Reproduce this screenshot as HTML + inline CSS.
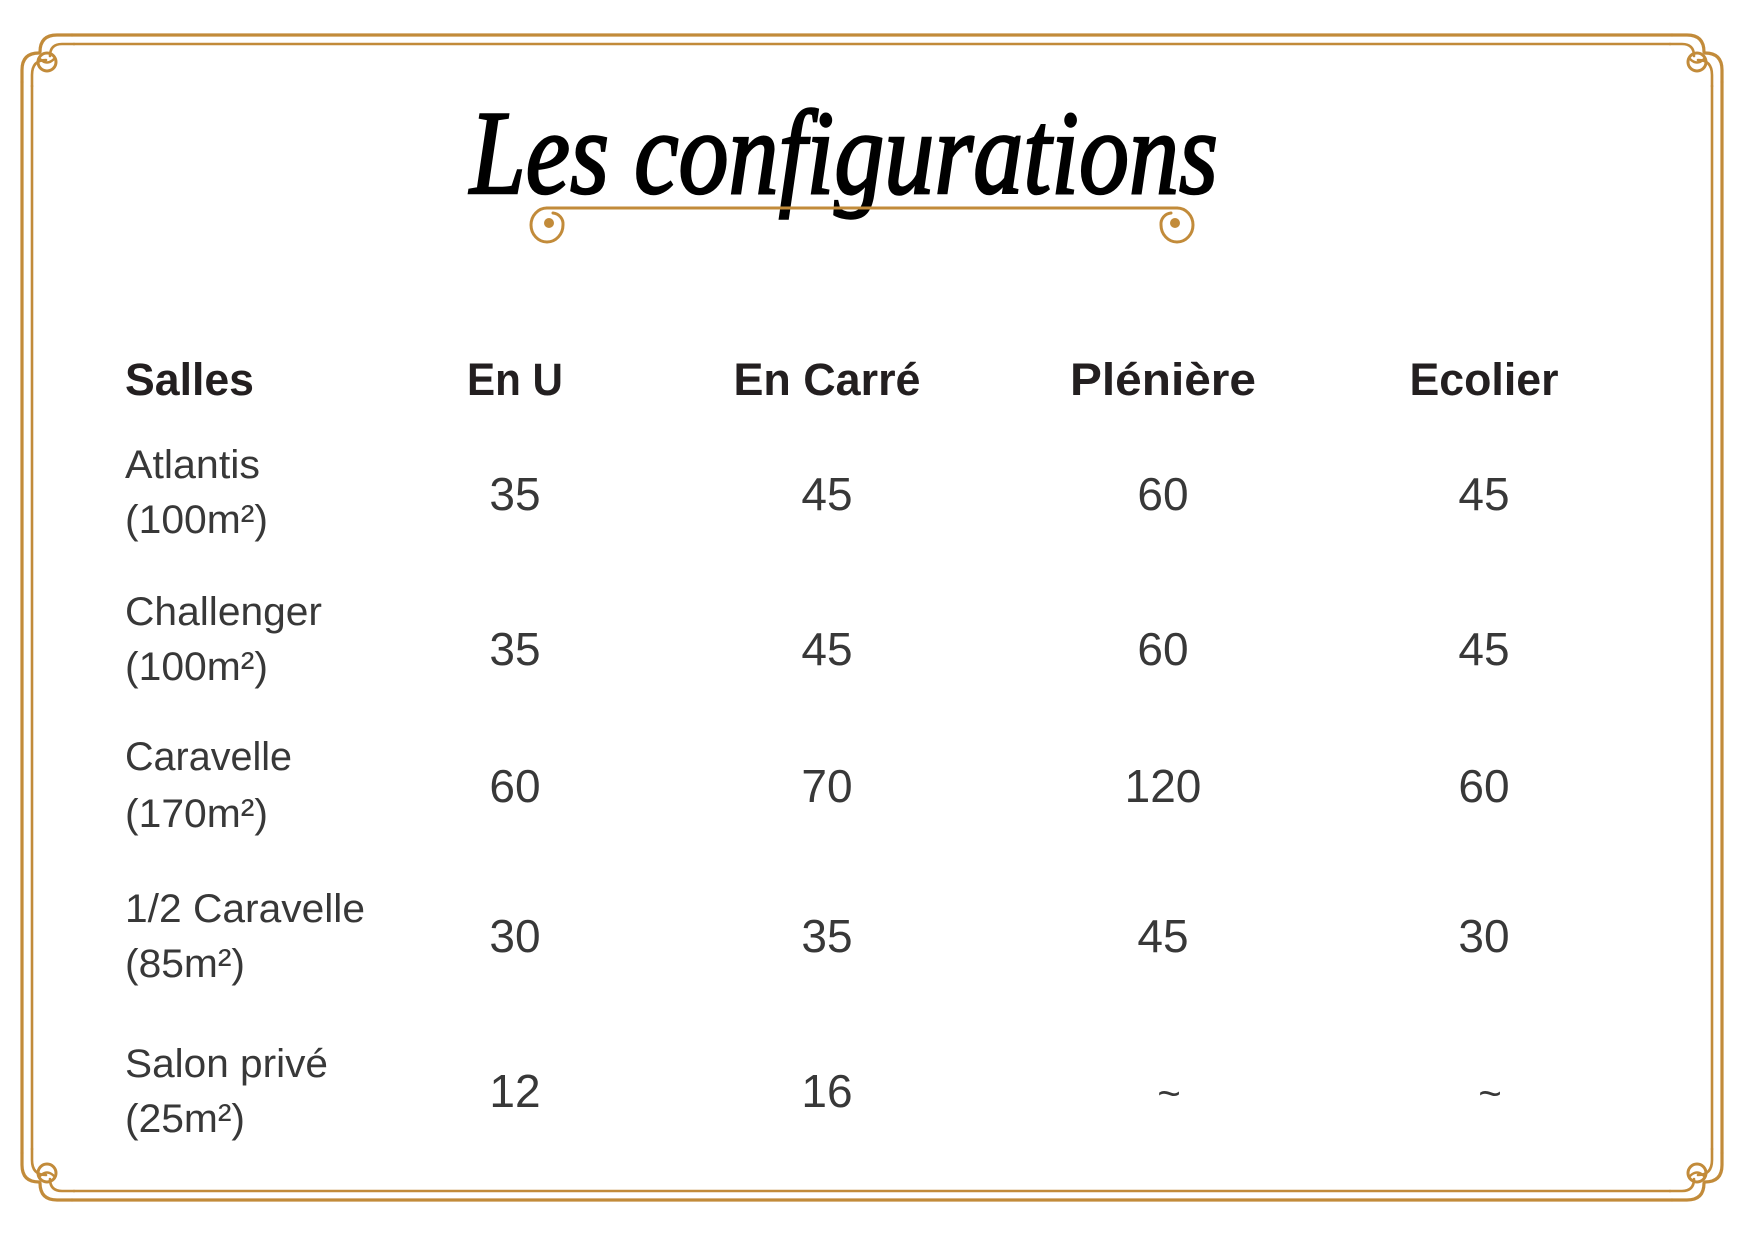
<!DOCTYPE html>
<html>
<head>
<meta charset="utf-8">
<style>
  html, body { margin: 0; padding: 0; background: #ffffff; }
  body { width: 1748px; height: 1240px; overflow: hidden; }
  svg { display: block; }
  .hdr { font-family: "Liberation Sans", sans-serif; font-weight: bold; font-size: 45px; fill: #231f20; }
  .name { font-family: "Liberation Sans", sans-serif; font-weight: normal; font-size: 40px; fill: #383838; }
  .num { font-family: "Liberation Sans", sans-serif; font-weight: normal; font-size: 46px; fill: #383838; }
  .title { font-family: "Liberation Serif", serif; font-style: italic; font-size: 120px; fill: #000; stroke: #000; stroke-width: 2.5px; }
</style>
</head>
<body>
<svg width="1748" height="1240" viewBox="0 0 1748 1240" xmlns="http://www.w3.org/2000/svg">
  <defs>
    <g id="corner" fill="none" stroke="#C28B3A" stroke-linecap="round">
      <path d="M72 35 L57 35 Q40 35 40 52" stroke-width="3.2"/>
      <path d="M22 82 L22 70 Q22 53 39 53" stroke-width="3.2"/>
      <path d="M74 44 L62 44 Q50 44 50 56" stroke-width="2.6"/>
      <path d="M32 86 L32 75 Q32 60 46 60" stroke-width="2.6"/>
      <circle cx="47" cy="62" r="9" stroke-width="3"/>
      <path d="M40 59 Q47 66 54 59" stroke-width="2.4"/>
    </g>
  </defs>
  <rect x="0" y="0" width="1748" height="1240" fill="#ffffff"/>

  <!-- Frame straight lines -->
  <g fill="none" stroke="#C28B3A" stroke-linecap="round">
    <path d="M72 35 L1672 35 M72 1200 L1672 1200 M22 82 L22 1153 M1722 82 L1722 1153" stroke-width="3.2"/>
    <path d="M74 44 L1670 44 M74 1191 L1670 1191 M32 86 L32 1149 M1712 86 L1712 1149" stroke-width="2.6"/>
  </g>
  <!-- Frame corners -->
  <use href="#corner"/>
  <use href="#corner" transform="matrix(-1 0 0 1 1744 0)"/>
  <use href="#corner" transform="matrix(1 0 0 -1 0 1235)"/>
  <use href="#corner" transform="matrix(-1 0 0 -1 1744 1235)"/>

  <!-- Title -->
  <text class="title" x="470" y="193" textLength="748" lengthAdjust="spacingAndGlyphs">Les configurations</text>

  <!-- Title ornament -->
  <g fill="none" stroke="#C28B3A" stroke-width="3" stroke-linecap="round">
    <path d="M547 208 L1177 208"/>
    <path d="M547 208 A16 17 0 1 0 563 225 A11 11 0 0 0 553 213"/>
    <path d="M1177 208 A16 17 0 1 1 1161 225 A11 11 0 0 1 1171 213"/>
  </g>
  <circle cx="549" cy="223" r="5" fill="#C28B3A"/>
  <circle cx="1175" cy="223" r="5" fill="#C28B3A"/>

  <!-- Headers -->
  <text class="hdr" x="125" y="395" textLength="129" lengthAdjust="spacingAndGlyphs">Salles</text>
  <text class="hdr" x="515" y="395" text-anchor="middle" textLength="96" lengthAdjust="spacingAndGlyphs">En U</text>
  <text class="hdr" x="827" y="395" text-anchor="middle" textLength="187" lengthAdjust="spacingAndGlyphs">En Carré</text>
  <text class="hdr" x="1163" y="395" text-anchor="middle" textLength="186" lengthAdjust="spacingAndGlyphs">Plénière</text>
  <text class="hdr" x="1484" y="395" text-anchor="middle" textLength="149" lengthAdjust="spacingAndGlyphs">Ecolier</text>

  <!-- Row 1 -->
  <text class="name" x="125" y="478" textLength="135" lengthAdjust="spacingAndGlyphs">Atlantis</text>
  <text class="name" x="125" y="533" textLength="143" lengthAdjust="spacingAndGlyphs">(100m²)</text>
  <text class="num" x="515" y="510" text-anchor="middle">35</text>
  <text class="num" x="827" y="510" text-anchor="middle">45</text>
  <text class="num" x="1163" y="510" text-anchor="middle">60</text>
  <text class="num" x="1484" y="510" text-anchor="middle">45</text>

  <!-- Row 2 -->
  <text class="name" x="125" y="625" textLength="197" lengthAdjust="spacingAndGlyphs">Challenger</text>
  <text class="name" x="125" y="680" textLength="143" lengthAdjust="spacingAndGlyphs">(100m²)</text>
  <text class="num" x="515" y="665" text-anchor="middle">35</text>
  <text class="num" x="827" y="665" text-anchor="middle">45</text>
  <text class="num" x="1163" y="665" text-anchor="middle">60</text>
  <text class="num" x="1484" y="665" text-anchor="middle">45</text>

  <!-- Row 3 -->
  <text class="name" x="125" y="770" textLength="167" lengthAdjust="spacingAndGlyphs">Caravelle</text>
  <text class="name" x="125" y="827" textLength="143" lengthAdjust="spacingAndGlyphs">(170m²)</text>
  <text class="num" x="515" y="802" text-anchor="middle">60</text>
  <text class="num" x="827" y="802" text-anchor="middle">70</text>
  <text class="num" x="1163" y="802" text-anchor="middle">120</text>
  <text class="num" x="1484" y="802" text-anchor="middle">60</text>

  <!-- Row 4 -->
  <text class="name" x="125" y="922" textLength="240" lengthAdjust="spacingAndGlyphs">1/2 Caravelle</text>
  <text class="name" x="125" y="977" textLength="120" lengthAdjust="spacingAndGlyphs">(85m²)</text>
  <text class="num" x="515" y="952" text-anchor="middle">30</text>
  <text class="num" x="827" y="952" text-anchor="middle">35</text>
  <text class="num" x="1163" y="952" text-anchor="middle">45</text>
  <text class="num" x="1484" y="952" text-anchor="middle">30</text>

  <!-- Row 5 -->
  <text class="name" x="125" y="1077" textLength="203" lengthAdjust="spacingAndGlyphs">Salon privé</text>
  <text class="name" x="125" y="1132" textLength="120" lengthAdjust="spacingAndGlyphs">(25m²)</text>
  <text class="num" x="515" y="1107" text-anchor="middle">12</text>
  <text class="num" x="827" y="1107" text-anchor="middle">16</text>
  <text class="num" x="1169" y="1107" text-anchor="middle" style="font-size:40px">~</text>
  <text class="num" x="1490" y="1107" text-anchor="middle" style="font-size:40px">~</text>
</svg>
</body>
</html>
